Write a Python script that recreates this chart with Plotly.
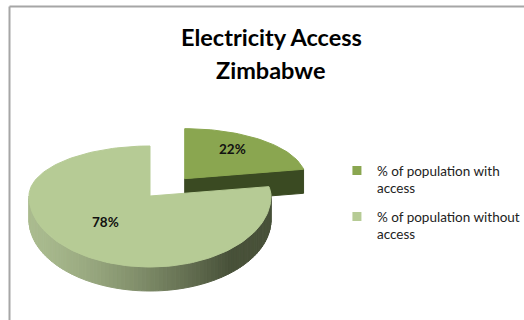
import math
import plotly.graph_objects as go

# Data
categories = ["% of population with access", "% of population without access"]
legend_labels = ["% of population with<br>access", "% of population without<br>access"]
values = [22, 78]
top_colors = ["#8aa650", "#b6cb95"]
side_colors = ["#3a4a22", None]  # None -> shaded wall
pulls = [0.45, 0.0]

# Pie geometry (pixel space, y grows downward)
W, H = 524, 320
CX, CY = 150, 196          # pie apex
RX, RY_BACK, RY_FRONT = 121, 50, 71
DEPTH = 24


def rim(theta, ox=0.0, oy=0.0):
    t = math.radians(theta)
    c = math.cos(t)
    ry = RY_BACK if c > 0 else RY_FRONT
    return CX + ox + RX * math.sin(t), CY + oy - ry * c


def blend(c1, c2, t):
    t = max(0.0, min(1.0, t))
    return "rgb(%d,%d,%d)" % tuple(round(a + (b - a) * t) for a, b in zip(c1, c2))


LIGHT, DARK = (170, 187, 143), (72, 81, 57)

fig = go.Figure()

total = sum(values)
starts, ends = [], []
acc = 0.0
for v in values:
    starts.append(acc / total * 360)
    acc += v
    ends.append(acc / total * 360)


def poly(xs, ys, color):
    fig.add_trace(go.Scatter(
        x=xs, y=ys, mode="lines", fill="toself", fillcolor=color,
        line=dict(color=color, width=1),
        hoverinfo="skip", showlegend=False))


label_pos = []
# draw exploded (back) slice first, then main slice on top
order = sorted(range(len(values)), key=lambda i: -pulls[i])
for i in order:
    a, b = starts[i], ends[i]
    mid = (a + b) / 2
    mr = math.radians(mid)
    ox = pulls[i] * RX * math.sin(mr)
    oy = -pulls[i] * RY_BACK * math.cos(mr)
    ax, ay = CX + ox, CY + oy
    n = max(4, int((b - a) / 2))
    arc = [rim(a + (b - a) * k / n, ox, oy) for k in range(n + 1)]

    # front-facing radial cut face at the end angle
    if math.cos(math.radians(b + 90)) < 0 and side_colors[i]:
        ex, ey = arc[-1]
        poly([ax, ex, ex, ax, ax], [ay, ey, ey + DEPTH, ay + DEPTH, ay], side_colors[i])

    # curved front wall (visible for 90..270 degrees)
    lo, hi = max(a, 90), min(b, 270)
    if hi > lo:
        m = int((hi - lo) / 2)
        for k in range(m):
            t0 = lo + (hi - lo) * k / m
            t1 = lo + (hi - lo) * (k + 1) / m
            x0, y0 = rim(t0, ox, oy)
            x1, y1 = rim(t1, ox, oy)
            xm = (x0 + x1) / 2
            shade = ((xm - (CX - RX)) / 200) ** 1.4 if xm > CX - RX else 0
            col = side_colors[i] or blend(LIGHT, DARK, shade)
            poly([x0, x1, x1, x0, x0], [y0, y1, y1 + DEPTH, y0 + DEPTH, y0], col)

    # top face
    xs = [ax] + [p[0] for p in arc] + [ax]
    ys = [ay] + [p[1] for p in arc] + [ay]
    poly(xs, ys, top_colors[i])

    c = math.cos(mr)
    ry = RY_BACK if c > 0 else RY_FRONT
    label_pos.append((i, ax + 0.6 * RX * math.sin(mr) + 2, ay - 0.6 * ry * c - 7))

# value labels
for i, lx, ly in label_pos:
    fig.add_annotation(x=lx, y=ly, text="<b>%d%%</b>" % values[i], showarrow=False,
                       font=dict(family="Lato", size=13.5, color="#111111"))

# legend entries
for i, name in enumerate(legend_labels):
    fig.add_trace(go.Scatter(
        x=[None], y=[None], mode="markers", name=name, legendgroup=str(i),
        marker=dict(symbol="square", size=9, color=top_colors[i])))

# title
fig.add_annotation(x=271, y=37, text="<b>Electricity Access</b>", showarrow=False,
                   font=dict(family="Lato", size=23.5, color="#000000"))
fig.add_annotation(x=271, y=70, text="<b>Zimbabwe</b>", showarrow=False,
                   font=dict(family="Lato", size=23.5, color="#000000"))

# chart area border
fig.add_shape(type="line", x0=9.5, y0=6.5, x1=W, y1=6.5,
              line=dict(color="#a6a6a6", width=2))
fig.add_shape(type="line", x0=9.5, y0=6.5, x1=9.5, y1=H,
              line=dict(color="#a6a6a6", width=2))

fig.update_layout(
    width=W, height=H, margin=dict(l=0, r=0, t=0, b=0, autoexpand=False),
    paper_bgcolor="white", plot_bgcolor="white",
    xaxis=dict(range=[0, W], visible=False, fixedrange=True),
    yaxis=dict(range=[H, 0], visible=False, fixedrange=True),
    showlegend=True,
    legend=dict(x=0.643, y=0.515, xanchor="left", yanchor="top",
                font=dict(family="Lato", size=13.5, color="#222222"),
                valign="top", tracegroupgap=8, bgcolor="rgba(0,0,0,0)"),
    hovermode=False,
)

fig.write_html("out.html")
